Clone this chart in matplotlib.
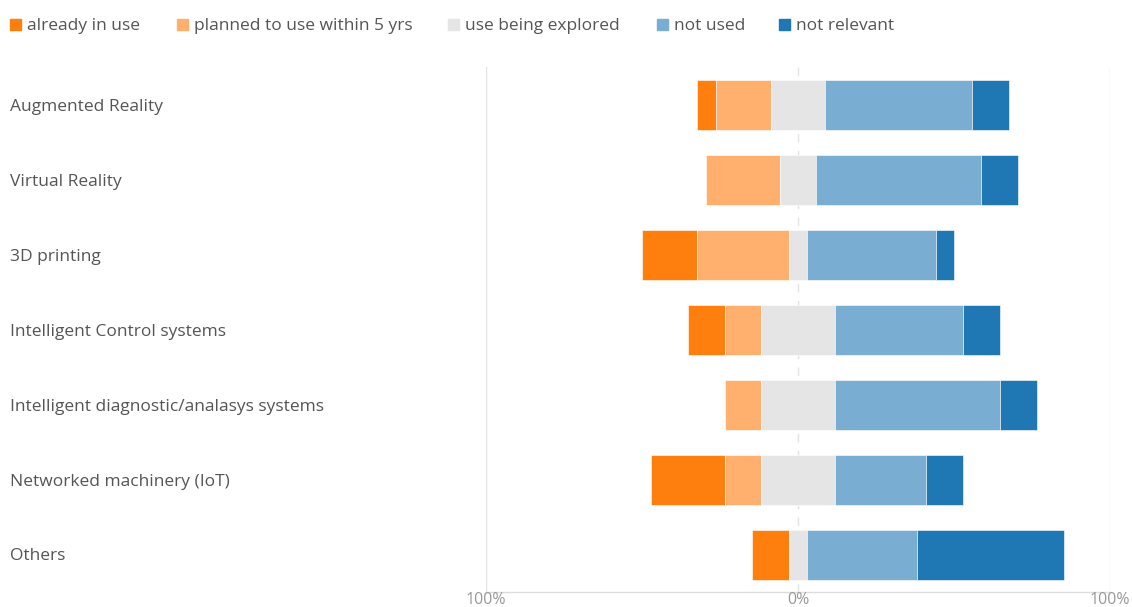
import matplotlib
matplotlib.use("Agg")
import matplotlib.pyplot as plt
from matplotlib.patches import Rectangle
from matplotlib.transforms import blended_transform_factory, ScaledTranslation

plt.rcParams['font.family'] = ['Open Sans', 'DejaVu Sans']

categories = [
    "Augmented Reality",
    "Virtual Reality",
    "3D printing",
    "Intelligent Control systems",
    "Intelligent diagnostic/analasys systems",
    "Networked machinery (IoT)",
    "Others",
]
series_names = ["already in use", "planned to use within 5 yrs",
                "use being explored", "not used", "not relevant"]

# percent of respondents per answer
already_in_use = [5.9, 0.0, 17.6, 11.8, 0.0, 23.5, 11.8]
planned_5yrs = [17.6, 23.5, 29.4, 11.8, 11.8, 11.8, 0.0]
being_explored = [17.6, 11.8, 5.9, 23.5, 23.5, 23.5, 5.9]
not_used = [47.1, 52.9, 41.2, 41.2, 52.9, 29.4, 35.3]
not_relevant = [11.8, 11.8, 5.9, 11.8, 11.8, 11.8, 47.1]

tick_values = [-100, 0, 100]
tick_labels = ["100%", "0%", "100%"]

colors = ["#ff7f0e", "#ffb06e", "#e5e5e5", "#7aadd2", "#1f77b4"]

W, H = 1132, 607
fig = plt.figure(figsize=(W / 100, H / 100), dpi=100)
ax = fig.add_axes([486 / W, 1 - 592 / H, (1110 - 486) / W, (592 - 67) / H])

series = [already_in_use, planned_5yrs, being_explored, not_used, not_relevant]
y = list(range(len(categories)))
for i in y:
    left = -(already_in_use[i] + planned_5yrs[i] + being_explored[i] / 2)
    for s, vals in enumerate(series):
        if vals[i] > 0:
            ax.barh(i, vals[i], left=left, height=2 / 3, color=colors[s],
                    edgecolor="white", linewidth=0.4, zorder=3)
        left += vals[i]

ax.set_xlim(-100, 100)
ax.set_ylim(len(categories) - 0.5, -0.5)

# grid lines
for v in tick_values:
    ax.axvline(v, color="#e3e3e3", lw=1,
               ls=(0, (6, 6)) if v == 0 else "-", zorder=1)
ax.plot([-100, 100], [len(categories) - 0.5] * 2, color="#dddddd", lw=1,
        clip_on=False, zorder=1)

for sp in ax.spines.values():
    sp.set_visible(False)
ax.set_yticks([])
ax.set_xticks(tick_values)
ax.set_xticklabels(tick_labels, color="#999999", fontsize=11.5)
ax.tick_params(axis="x", length=0, pad=0)

# category labels
shift = ScaledTranslation(0, -2 / 100, fig.dpi_scale_trans)
trans = blended_transform_factory(fig.transFigure, ax.transData) + shift
for i, c in enumerate(categories):
    ax.text(10 / W, i, c, transform=trans, ha="left", va="center",
            fontsize=12.5, color="#555555")

# legend
legend_x = [10, 177, 448, 657, 779]
for xpix, name, col in zip(legend_x, series_names, colors):
    fig.patches.append(Rectangle((xpix / W, 1 - 30 / H), 11 / W, 11 / H,
                                 transform=fig.transFigure, color=col))
    fig.text((xpix + 17) / W, 1 - 25.5 / H, name, ha="left", va="center",
             fontsize=12.5, color="#555555")

fig.savefig("out.png", dpi=100)
